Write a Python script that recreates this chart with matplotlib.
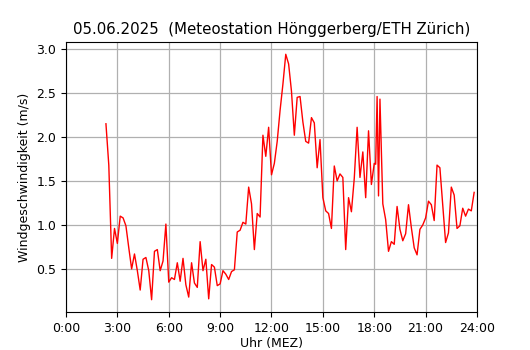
import matplotlib
matplotlib.use("Agg")
import matplotlib.pyplot as plt

times = ["2:20", "2:30", "2:40", "2:50", "3:00", "3:10", "3:20", "3:30", "3:40", "3:50",
         "4:00", "4:10", "4:20", "4:30", "4:40", "4:50", "5:00", "5:10", "5:20", "5:30",
         "5:40", "5:50", "6:00", "6:10", "6:20", "6:30", "6:40", "6:50", "7:00", "7:10",
         "7:20", "7:30", "7:40", "7:50", "8:00", "8:10", "8:20", "8:30", "8:40", "8:50",
         "9:00", "9:10", "9:20", "9:30", "9:40", "9:50", "10:00", "10:10", "10:20", "10:30",
         "10:40", "10:50", "11:00", "11:10", "11:20", "11:30", "11:40", "11:50", "12:00", "12:10",
         "12:20", "12:30", "12:40", "12:50", "13:00", "13:10", "13:20", "13:30", "13:40", "13:50",
         "14:00", "14:10", "14:20", "14:30", "14:40", "14:50", "15:00", "15:10", "15:20", "15:30",
         "15:40", "15:50", "16:00", "16:10", "16:20", "16:30", "16:40", "16:50", "17:00", "17:10",
         "17:20", "17:30", "17:40", "17:50", "18:00", "18:05", "18:10", "18:15", "18:20", "18:30",
         "18:40", "18:50", "19:00", "19:10", "19:20", "19:30", "19:40", "19:50", "20:00", "20:10",
         "20:20", "20:30", "20:40", "20:50", "21:00", "21:10", "21:20", "21:30", "21:40", "21:50",
         "22:00", "22:10", "22:20", "22:30", "22:40", "22:50", "23:00", "23:10", "23:20", "23:30",
         "23:40", "23:50"]

wind = [2.15, 1.68, 0.62, 0.96, 0.79, 1.10, 1.08, 0.99, 0.74, 0.50,
        0.67, 0.48, 0.26, 0.61, 0.63, 0.48, 0.15, 0.70, 0.72, 0.48,
        0.59, 1.01, 0.35, 0.40, 0.38, 0.57, 0.36, 0.62, 0.32, 0.18,
        0.57, 0.34, 0.29, 0.81, 0.48, 0.61, 0.16, 0.55, 0.52, 0.31,
        0.33, 0.48, 0.44, 0.38, 0.47, 0.49, 0.92, 0.94, 1.03, 1.01,
        1.43, 1.24, 0.72, 1.13, 1.09, 2.02, 1.78, 2.11, 1.57, 1.70,
        1.95, 2.30, 2.60, 2.94, 2.83, 2.52, 2.02, 2.45, 2.46, 2.17,
        1.95, 1.93, 2.22, 2.16, 1.65, 1.97, 1.31, 1.16, 1.13, 0.96,
        1.67, 1.50, 1.58, 1.54, 0.72, 1.31, 1.15, 1.53, 2.11, 1.54,
        1.83, 1.31, 2.07, 1.46, 1.70, 1.69, 2.46, 1.33, 2.43, 1.24,
        1.06, 0.70, 0.81, 0.78, 1.21, 0.95, 0.82, 0.90, 1.23, 0.97,
        0.74, 0.66, 0.95, 1.00, 1.08, 1.27, 1.23, 1.05, 1.68, 1.65,
        1.23, 0.80, 0.91, 1.43, 1.34, 0.96, 0.99, 1.19, 1.10, 1.18,
        1.16, 1.37]

tick_hours = [0, 3, 6, 9, 12, 15, 18, 21, 24]
tick_labels = ["0:00", "3:00", "6:00", "9:00", "12:00", "15:00", "18:00", "21:00", "24:00"]

hours = [int(t.split(":")[0]) + int(t.split(":")[1]) / 60 for t in times]

plt.rcParams["font.size"] = 9
fig = plt.figure(figsize=(5.3, 3.5), dpi=100)
ax = fig.add_axes([0.1245, 0.1086, 0.7755, 0.7714])
ax.plot(hours, wind, color="red", linewidth=1.0)
ax.set_xlim(0, 24)
ax.set_xticks(tick_hours)
ax.set_xticklabels(tick_labels)
ax.grid(True, color="#b0b0b0", linewidth=0.9)
ax.set_axisbelow(True)
ax.set_xlabel("Uhr (MEZ)", labelpad=2)
ax.set_ylabel("Windgeschwindigkeit (m/s)")
ax.set_title("05.06.2025  (Meteostation Hönggerberg/ETH Zürich)", fontsize=10.8)
fig.savefig("out.png", dpi=100)
